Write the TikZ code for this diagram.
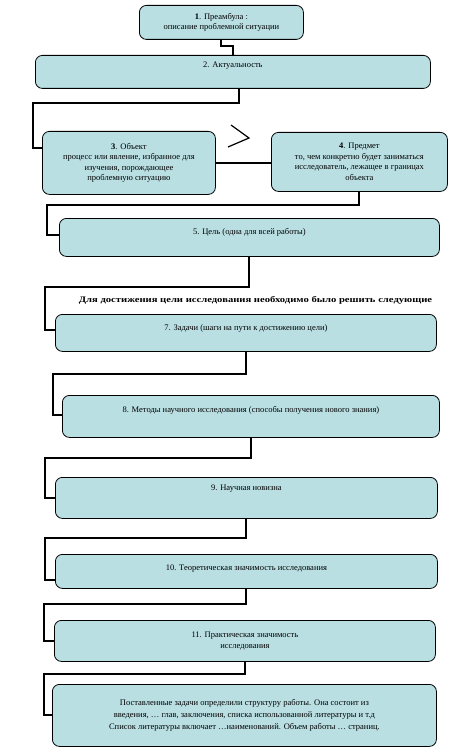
\documentclass[tikz,border=0pt]{standalone}
\usepackage{fontspec}
\setmainfont{Liberation Serif}
\usepackage{graphicx}
\usetikzlibrary{calc}
\definecolor{zalivka}{RGB}{185,223,227}

\begin{document}
\begin{tikzpicture}[x=1pt,y=-1pt,
   blok/.style={draw, line width=0.8pt, rounded corners=7pt, fill=zalivka, anchor=north west,
      align=center, inner sep=2pt, font=\fontsize{8.5}{10.5}\selectfont},
   svyaz/.style={line width=2pt}]
   \useasboundingbox (0,0) rectangle (463,754);

   % блоки
   \node [blok, minimum width=164pt, minimum height=34pt] (b1) at (139,5) {\textbf{1}. Преамбула :\\описание проблемной ситуации};
   \node [blok, minimum width=395pt, minimum height=33pt, text depth=14pt] (b2) at (35,55) {2. Актуальность};
   \node [blok, minimum width=173pt, minimum height=63pt] (b3) at (42,131) {\textbf{3}. Объект\\процесс или явление, избранное для\\изучения, порождающее\\проблемную ситуацию};
   \node [blok, minimum width=176pt, minimum height=59pt] (b4) at (271,132) {\textbf{4}. Предмет\\то, чем конкретно будет заниматься\\исследователь, лежащее в границах\\объекта};
   \node [blok, minimum width=380pt, minimum height=38pt, text depth=11pt] (b5) at (59,218) {5. Цель (одна для всей работы)};
   \node [font=\bfseries\fontsize{8.5}{10}\selectfont, inner sep=0pt] (zamet) at (255.5,300) {\scalebox{1.25}[1]{Для достижения цели исследования необходимо было решить следующие}};
   \node [blok, minimum width=381pt, minimum height=37pt, text depth=10pt] (b7) at (55,314) {7. Задачи (шаги на пути к достижению цели)};
   \node [blok, minimum width=377pt, minimum height=42pt, text depth=13pt] (b8) at (62,395) {8. Методы научного исследования (способы получения нового знания)};
   \node [blok, minimum width=382pt, minimum height=41pt, text depth=20pt] (b9) at (55,477) {9. Научная новизна};
   \node [blok, minimum width=382pt, minimum height=34pt, text depth=7pt] (b10) at (55,554) {10. Теоретическая значимость исследования};
   \node [blok, minimum width=381pt, minimum height=41pt] (b11) at (54,620) {11. Практическая значимость\\исследования};
   \node [blok, minimum width=384pt, minimum height=62pt, font=\fontsize{8.5}{12}\selectfont] (b12) at (52,684) {Поставленные задачи определили структуру работы. Она состоит из\\введения, … глав, заключения, списка использованной литературы и т.д\\Список литературы включает …наименований. Объем работы … страниц.};

   % знак между объектом и предметом
   \draw[line width=1.2pt] (231,125) -- (249,138) -- (228,147);

   % соединительные линии
   \draw[svyaz] (b1.south) -- ++(0,6) -| (b2.north);
   \draw[svyaz] ($(b2.south)+(6.5,0)$) -- ++(0,14) -| ($(b3.west)+(-9,-14.5)$) -- ($(b3.west)+(0,-14.5)$);
   \draw[svyaz] (b3.east) -- (b3.east -| b4.west);
   \draw[svyaz] (b4.south) -- ++(0,13) -| ($(b5.west)+(-12,-2)$) -- ($(b5.west)+(0,-2)$);
   \draw[svyaz] (b5.south) -- ++(0,30) -| ($(b7.west)+(-10,-2.5)$) -- ($(b7.west)+(0,-2.5)$);
   \draw[svyaz] (b7.south) -- ++(0,22) -| ($(b8.west)+(-9,-1)$) -- ($(b8.west)+(0,-1)$);
   \draw[svyaz] (b8.south) -- ++(0,20) -| ($(b9.west)+(-10,0)$) -- (b9.west);
   \draw[svyaz] (b9.south) -- ++(0,19) -| ($(b10.west)+(-10,9)$) -- ($(b10.west)+(0,9)$);
   \draw[svyaz] (b10.south) -- ++(0,15) -| ($(b11.west)+(-10,0)$) -- (b11.west);
   \draw[svyaz] (b11.south) -- ++(0,12) -| ($(b12.west)+(-8,0)$) -- (b12.west);

\end{tikzpicture}
\end{document}
